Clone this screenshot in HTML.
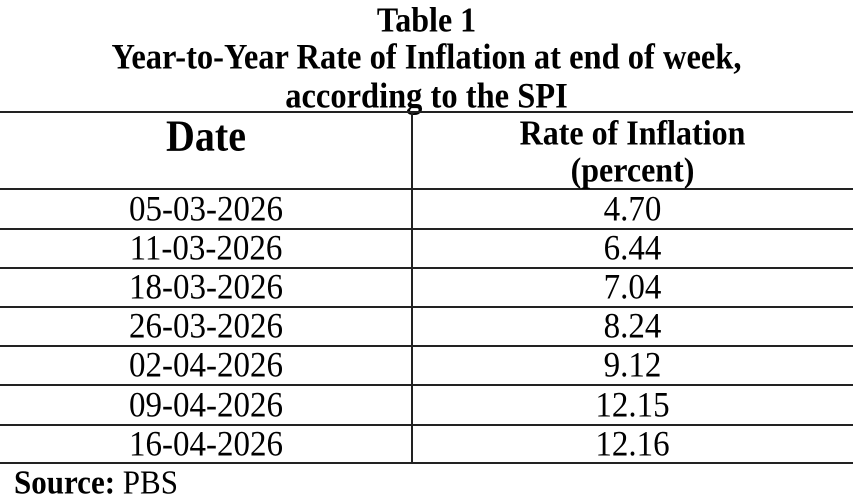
<!DOCTYPE html>
<html><head><meta charset="utf-8"><style>
body{margin:0;background:#fff;}
#c{position:relative;width:853px;height:499px;overflow:hidden;background:#fff;font-family:"Liberation Serif",serif;color:#000;}
.t{position:absolute;white-space:nowrap;line-height:1;transform:scaleY(1.1);transform-origin:50% 0;}
.b{font-weight:bold;}
.h{position:absolute;left:0;width:853px;height:2px;background:#222;}
.cL{left:0;width:412px;text-align:center;}
.cR{left:412px;width:441px;text-align:center;}
.d{font-size:33px;}
</style></head><body><div id="c">
<div class="t b" style="left:0;width:853px;text-align:center;top:2px;font-size:32px;">Table 1</div>
<div class="t b" style="left:0;width:853px;text-align:center;top:40px;font-size:32.5px;">Year-to-Year Rate of Inflation at end of week,</div>
<div class="t b" style="left:0;width:853px;text-align:center;top:79px;font-size:32.5px;">according to the SPI</div>
<div class="h" style="top:111px"></div>
<div class="h" style="top:188px"></div>
<div class="h" style="top:228px"></div>
<div class="h" style="top:267px"></div>
<div class="h" style="top:306px"></div>
<div class="h" style="top:345px"></div>
<div class="h" style="top:384px"></div>
<div class="h" style="top:424px"></div>
<div class="h" style="top:462px"></div>
<div style="position:absolute;left:411px;top:111px;width:2px;height:353px;background:#222"></div>
<div class="t b cL" style="top:114px;font-size:40px;">Date</div>
<div class="t b cR" style="top:115px;font-size:32px;">Rate of Inflation</div>
<div class="t b cR" style="top:152px;font-size:32px;">(percent)</div>
<div class="t d cL" style="top:192px">05-03-2026</div><div class="t d cR" style="top:192px">4.70</div>
<div class="t d cL" style="top:231px">11-03-2026</div><div class="t d cR" style="top:231px">6.44</div>
<div class="t d cL" style="top:270px">18-03-2026</div><div class="t d cR" style="top:270px">7.04</div>
<div class="t d cL" style="top:309px">26-03-2026</div><div class="t d cR" style="top:309px">8.24</div>
<div class="t d cL" style="top:348px">02-04-2026</div><div class="t d cR" style="top:348px">9.12</div>
<div class="t d cL" style="top:388px">09-04-2026</div><div class="t d cR" style="top:388px">12.15</div>
<div class="t d cL" style="top:427px">16-04-2026</div><div class="t d cR" style="top:427px">12.16</div>
<div class="t" style="left:14px;top:465px;font-size:31px;transform-origin:0 0;"><span class="b">Source:</span> PBS</div>
</div></body></html>
